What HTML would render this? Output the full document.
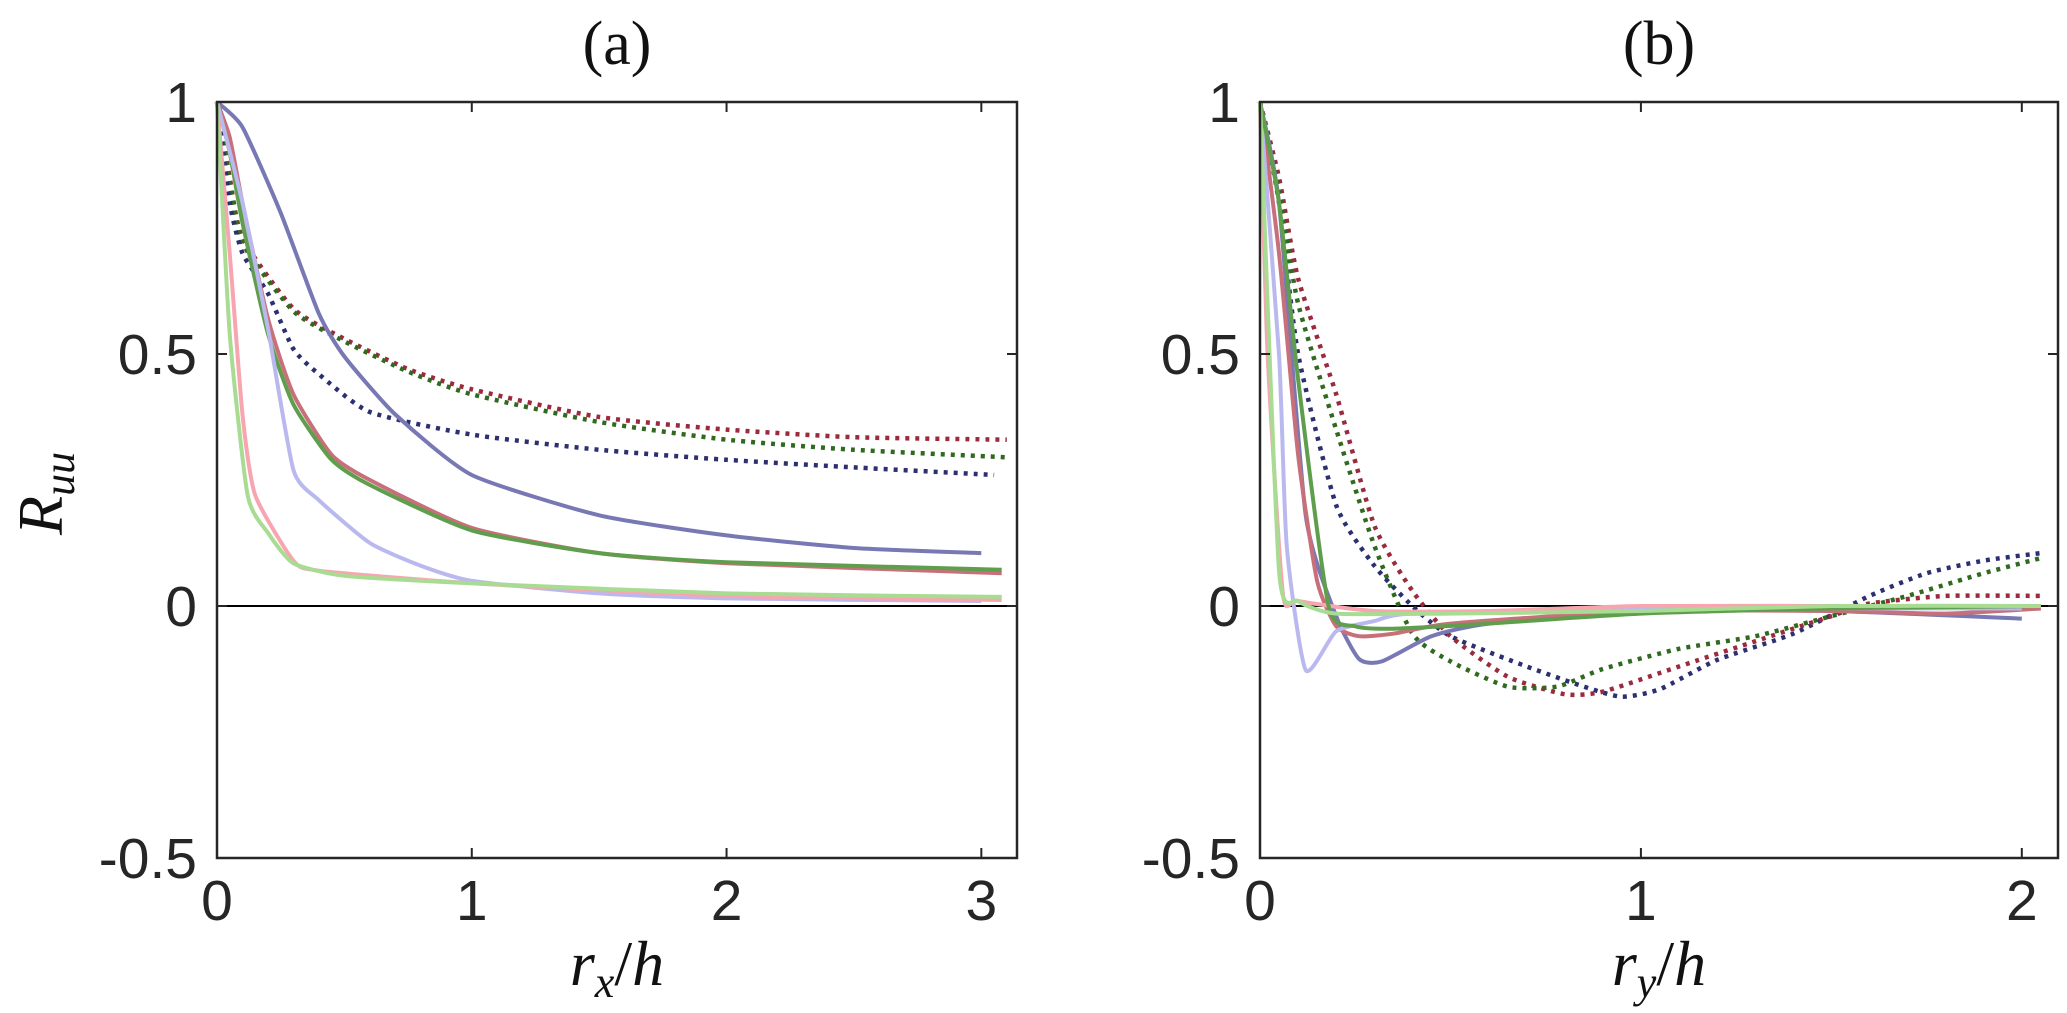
<!DOCTYPE html>
<html><head><meta charset="utf-8"><style>
html,body{margin:0;padding:0;background:#fff;}
svg{display:block;}
.tick{font-family:"Liberation Sans",sans-serif;font-size:57px;fill:#262626;}
.ttl{font-family:"Liberation Serif",serif;font-size:62px;fill:#111;}
.lab{font-family:"Liberation Serif",serif;font-style:italic;font-size:64px;fill:#111;}
</style></head><body>
<svg id="chart" width="2067" height="1013" viewBox="0 0 2067 1013" xmlns="http://www.w3.org/2000/svg"></svg>
<script>
// Panel (a) data
const aBlueX=[0,0.1,0.25,0.4,0.5,0.7,1,1.5,2,2.5,3];
const aBlueY=[1,0.95,0.78,0.58,0.495,0.38,0.26,0.18,0.14,0.115,0.105];
const aRedX=[0,0.05,0.1,0.2,0.3,0.45,0.6,1,1.5,2,3.08];
const aRedY=[1,0.93,0.8,0.57,0.42,0.3,0.25,0.155,0.105,0.085,0.065];
const aGreenX=[0,0.05,0.1,0.2,0.3,0.45,0.6,1,1.5,2,3.08];
const aGreenY=[1,0.9,0.76,0.54,0.4,0.29,0.24,0.15,0.105,0.087,0.072];
const aLBlueX=[0,0.1,0.2,0.3,0.4,0.6,0.8,1,1.5,2,3];
const aLBlueY=[1,0.8,0.55,0.27,0.21,0.125,0.08,0.05,0.025,0.015,0.01];
const aPinkX=[0,0.05,0.1,0.15,0.3,0.4,1,2,3.08];
const aPinkY=[1,0.7,0.38,0.22,0.09,0.07,0.045,0.02,0.012];
const aLGreenX=[0,0.05,0.12,0.2,0.3,0.5,1,2,3.08];
const aLGreenY=[1,0.54,0.22,0.145,0.085,0.06,0.045,0.025,0.018];
const aDRedX=[0,0.05,0.1,0.3,0.5,0.75,1,1.5,2,2.5,3.1];
const aDRedY=[1,0.85,0.73,0.59,0.53,0.47,0.43,0.375,0.35,0.335,0.33];
const aDGreenX=[0,0.05,0.1,0.3,0.5,0.75,1,1.5,2,2.5,3.1];
const aDGreenY=[1,0.84,0.72,0.585,0.525,0.465,0.42,0.365,0.33,0.31,0.295];
const aDBlueX=[0,0.05,0.1,0.2,0.3,0.4,0.6,1,1.5,2,2.5,3.05];
const aDBlueY=[1,0.8,0.7,0.62,0.51,0.46,0.385,0.34,0.31,0.29,0.275,0.26];
// Panel (b) data
const bPinkX=[0,0.02,0.06,0.1,0.3,0.6,1,1.5,2.05];
const bPinkY=[1,0.5,0.025,0.01,-0.01,-0.01,0,0,0];
const bLGreenX=[0,0.05,0.1,0.2,0.5,1,1.5,2.05];
const bLGreenY=[1,0.07,0.01,-0.015,-0.015,-0.01,0,0];
const bLBlueX=[0,0.05,0.07,0.12,0.2,0.3,0.4,1,2];
const bLBlueY=[1,0.5,0.12,-0.127,-0.05,-0.03,-0.015,-0.005,-0.005];
const bBlueX=[0,0.05,0.12,0.2,0.26,0.32,0.45,0.6,1,1.5,2];
const bBlueY=[1,0.8,0.18,-0.02,-0.105,-0.11,-0.06,-0.035,-0.01,-0.01,-0.025];
const bRedX=[0,0.05,0.1,0.15,0.2,0.26,0.35,0.5,1,1.5,1.8,2.05];
const bRedY=[1,0.7,0.3,0.05,-0.04,-0.06,-0.055,-0.035,-0.01,-0.01,-0.015,-0.005];
const bGreenX=[0,0.05,0.1,0.18,0.25,0.35,0.6,1,1.5,2.05];
const bGreenY=[1,0.8,0.45,0,-0.04,-0.045,-0.035,-0.015,-0.005,0];
const bDBlueX=[0,0.05,0.1,0.2,0.3,0.4,0.5,0.7,0.85,0.95,1.05,1.2,1.4,1.6,1.75,1.9,2.05];
const bDBlueY=[1,0.8,0.5,0.2,0.08,0,-0.06,-0.12,-0.16,-0.18,-0.165,-0.107,-0.055,0.02,0.065,0.09,0.105];
const bDRedX=[0,0.05,0.1,0.2,0.3,0.4,0.5,0.65,0.8,0.9,1.1,1.3,1.5,1.6,1.8,2.05];
const bDRedY=[1,0.85,0.65,0.42,0.16,0.03,-0.06,-0.14,-0.175,-0.17,-0.12,-0.07,-0.02,0.005,0.02,0.02];
const bDGreenX=[0,0.05,0.1,0.2,0.3,0.4,0.5,0.65,0.78,0.9,1.1,1.3,1.5,1.7,1.9,2.05];
const bDGreenY=[1,0.82,0.6,0.35,0.12,-0.055,-0.11,-0.16,-0.16,-0.125,-0.085,-0.06,-0.02,0.02,0.065,0.095];
const yTicks=[-0.5,0,0.5,1];
const yTickLabels=["-0.5","0","0.5","1"];
const aXTicks=[0,1,2,3];
const bXTicks=[0,1,2];

const NS="http://www.w3.org/2000/svg";
const svg=document.getElementById('chart');
function mk(tag,attrs,parent){const e=document.createElementNS(NS,tag);for(const k in attrs)e.setAttribute(k,attrs[k]);(parent||svg).appendChild(e);return e;}

const C={blue:'#7878b4',red:'#c8707a',green:'#5f9e4c',lblue:'#b9b9f0',pink:'#f7a6b0',lgreen:'#a8dc92',dblue:'#2c2f70',dred:'#9a2a3c',dgreen:'#2f6a1f'};

function smoothPath(P){
  let d='M'+P[0][0].toFixed(1)+','+P[0][1].toFixed(1);
  for(let i=0;i<P.length-1;i++){
    const p0=P[Math.max(0,i-1)],p1=P[i],p2=P[i+1],p3=P[Math.min(P.length-1,i+2)];
    const t=0.3;
    const c1=[p1[0]+(p2[0]-p0[0])*t/1.5*0.5*2/2, p1[1]+(p2[1]-p0[1])*t/1.5*0.5*2/2];
    const c2=[p2[0]-(p3[0]-p1[0])*t/1.5*0.5*2/2, p2[1]-(p3[1]-p1[1])*t/1.5*0.5*2/2];
    d+='C'+c1[0].toFixed(1)+','+c1[1].toFixed(1)+' '+c2[0].toFixed(1)+','+c2[1].toFixed(1)+' '+p2[0].toFixed(1)+','+p2[1].toFixed(1);
  }
  return d;
}

function panel(name,left,right,xmax,xt,title,sub,series){
  const top=102,bottom=858;
  const sx=v=>left+v*(right-left)/xmax;
  const sy=v=>top+(1-v)*(bottom-top)/1.5;
  const g=mk('g',{});
  
  
  const zl=mk('line',{x1:left,x2:right,y1:sy(0),y2:sy(0),stroke:'#000','stroke-width':2},g);
  
  series.forEach(s=>{
    const P=s.x.map((v,i)=>[sx(v),sy(s.y[i])]);
    const p=mk('path',{d:smoothPath(P),fill:'none',stroke:s.c,'stroke-width':s.dot?4.5:4,'stroke-dasharray':s.dot?'4 6':'none','stroke-linejoin':'round'},g);
    
    
  });
  const fr=mk('rect',{x:left,y:top,width:right-left,height:bottom-top,fill:'none',stroke:'#262626','stroke-width':2.5},g);
  
  yTicks.forEach((v,i)=>{
    mk('line',{x1:left,x2:left+10,y1:sy(v),y2:sy(v),stroke:'#262626','stroke-width':2},g);
    mk('line',{x1:right,x2:right-10,y1:sy(v),y2:sy(v),stroke:'#262626','stroke-width':2},g);
    const t=mk('text',{x:left-20,y:sy(v)+20,'text-anchor':'end',class:'tick'},g);
    t.textContent=yTickLabels[i];
    
  });
  xt.forEach(v=>{
    mk('line',{x1:sx(v),x2:sx(v),y1:bottom,y2:bottom-10,stroke:'#262626','stroke-width':2},g);
    mk('line',{x1:sx(v),x2:sx(v),y1:top,y2:top+10,stroke:'#262626','stroke-width':2},g);
    const t=mk('text',{x:sx(v),y:bottom+62,'text-anchor':'middle',class:'tick'},g);
    t.textContent=String(v);
    
  });
  const cx=(left+right)/2;
  const tt=mk('text',{x:cx,y:64,'text-anchor':'middle',class:'ttl'},g);
  tt.textContent=title;
  
  const xl=mk('text',{x:cx,y:985,'text-anchor':'middle',class:'lab'},g);
  
  const t1=mk('tspan',{},xl);t1.textContent='r';
  const t2=mk('tspan',{dy:12,'font-size':44},xl);t2.textContent=sub;
  const t3=mk('tspan',{dy:-12,'font-style':'normal'},xl);t3.textContent='/';
  const t4=mk('tspan',{},xl);t4.textContent='h';
}
panel('panel-a',217,1017,3.14,aXTicks,'(a)','x',[
  {n:'dotted-dark-red',x:aDRedX,y:aDRedY,c:C.dred,dot:1},
  {n:'dotted-dark-green',x:aDGreenX,y:aDGreenY,c:C.dgreen,dot:1},
  {n:'dotted-dark-blue',x:aDBlueX,y:aDBlueY,c:C.dblue,dot:1},
  {n:'solid-blue',x:aBlueX,y:aBlueY,c:C.blue},
  {n:'solid-red',x:aRedX,y:aRedY,c:C.red},
  {n:'solid-green',x:aGreenX,y:aGreenY,c:C.green},
  {n:'light-blue',x:aLBlueX,y:aLBlueY,c:C.lblue},
  {n:'pink',x:aPinkX,y:aPinkY,c:C.pink},
  {n:'light-green',x:aLGreenX,y:aLGreenY,c:C.lgreen}
]);
panel('panel-b',1260,2058,2.095,bXTicks,'(b)','y',[
  {n:'dotted-dark-blue',x:bDBlueX,y:bDBlueY,c:C.dblue,dot:1},
  {n:'dotted-dark-red',x:bDRedX,y:bDRedY,c:C.dred,dot:1},
  {n:'dotted-dark-green',x:bDGreenX,y:bDGreenY,c:C.dgreen,dot:1},
  {n:'solid-blue',x:bBlueX,y:bBlueY,c:C.blue},
  {n:'solid-red',x:bRedX,y:bRedY,c:C.red},
  {n:'light-blue',x:bLBlueX,y:bLBlueY,c:C.lblue},
  {n:'pink',x:bPinkX,y:bPinkY,c:C.pink},
  {n:'solid-green',x:bGreenX,y:bGreenY,c:C.green},
  {n:'light-green',x:bLGreenX,y:bLGreenY,c:C.lgreen}
]);
const yl=mk('text',{x:0,y:0,class:'lab',transform:'translate(62,535) rotate(-90)'});


const r1=mk('tspan',{},yl);r1.textContent='R';
const r2=mk('tspan',{dy:12,'font-size':44},yl);r2.textContent='uu';
</script>
</body></html>
